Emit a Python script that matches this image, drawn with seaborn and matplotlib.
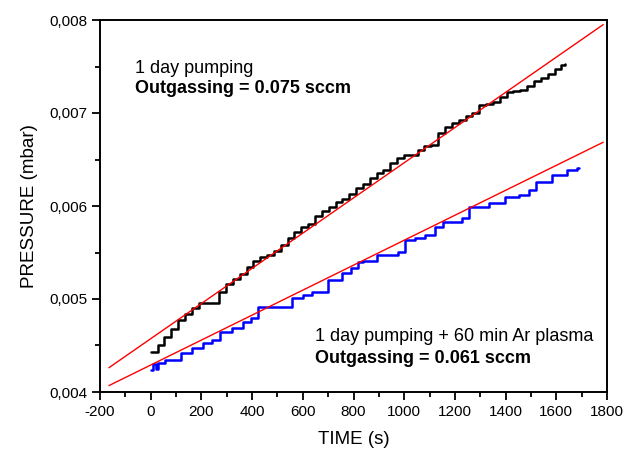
import matplotlib
matplotlib.use("Agg")
import matplotlib.pyplot as plt
import seaborn as sns
import numpy as np
import pandas as pd
from matplotlib.ticker import MultipleLocator, FuncFormatter

# ---- data (time in s, pressure in mbar) ----
black_t = [0, 27, 54, 81, 108, 135, 162, 189, 216, 243, 270, 297, 324, 351, 378,
           405, 432, 459, 486, 513, 540, 567, 594, 621, 648, 675, 702, 729, 756,
           783, 810, 837, 864, 891, 918, 945, 972, 999, 1026, 1053, 1080, 1107,
           1134, 1161, 1188, 1215, 1242, 1269, 1296, 1323, 1350, 1377, 1404,
           1431, 1458, 1485, 1512, 1539, 1566, 1593, 1620, 1635]
black_p = [4.433, 4.51, 4.595, 4.68, 4.774, 4.84, 4.90, 4.954, 4.954, 4.96, 5.08,
           5.16, 5.21, 5.27, 5.34, 5.41, 5.45, 5.473, 5.52, 5.58, 5.66, 5.72,
           5.77, 5.81, 5.89, 5.95, 5.99, 6.04, 6.08, 6.13, 6.19, 6.24, 6.30,
           6.35, 6.39, 6.46, 6.52, 6.548, 6.548, 6.60, 6.64, 6.656, 6.79, 6.853,
           6.89, 6.93, 6.97, 6.996, 7.086, 7.10, 7.122, 7.17, 7.229, 7.24, 7.247,
           7.29, 7.34, 7.38, 7.42, 7.47, 7.52, 7.53]
black_p = [v * 1e-3 for v in black_p]

blue_t = [0, 10, 20, 29, 55, 121, 161, 207, 240, 273, 319, 365, 395, 424, 556,
          600, 635, 701, 754, 790, 819, 839, 892, 977, 1004, 1043, 1083, 1122,
          1155, 1228, 1254, 1334, 1399, 1452, 1491, 1518, 1584, 1643, 1682, 1690]
blue_p = [4.24, 4.30, 4.25, 4.308, 4.344, 4.416, 4.47, 4.523, 4.559, 4.648,
          4.685, 4.756, 4.80, 4.917, 5.007, 5.04, 5.078, 5.204, 5.276, 5.33,
          5.401, 5.408, 5.473, 5.509, 5.634, 5.652, 5.688, 5.778, 5.831, 5.867,
          5.993, 6.028, 6.10, 6.118, 6.172, 6.261, 6.333, 6.387, 6.412, 6.412]
blue_p = [v * 1e-3 for v in blue_p]

# linear fits: P = intercept + slope * t
fit_slope = [1.892e-6, 1.342e-6]
fit_intercept = [4.573e-3, 4.290e-3]
fit_t_range = [-165, 1785]

xticks = [-200, 0, 200, 400, 600, 800, 1000, 1200, 1400, 1600, 1800]
yticks = [0.004, 0.005, 0.006, 0.007, 0.008]

sns.set_style("ticks")
plt.rcParams["font.family"] = ["Liberation Sans", "DejaVu Sans"]
plt.rcParams["text.color"] = "black"
plt.rcParams["axes.labelcolor"] = "black"
plt.rcParams["xtick.color"] = "black"
plt.rcParams["ytick.color"] = "black"

fig = plt.figure(figsize=(6.24, 4.5), dpi=100)
ax = fig.add_axes([100 / 624, 1 - 392 / 450, (607 - 100) / 624, (392 - 20) / 450])

df_b = pd.DataFrame({"t": black_t, "p": black_p})
df_u = pd.DataFrame({"t": blue_t, "p": blue_p})
sns.lineplot(data=df_b, x="t", y="p", ax=ax, color="black", lw=1.8,
             drawstyle="steps-post", sort=False, estimator=None)
sns.lineplot(data=df_u, x="t", y="p", ax=ax, color="#0000ff", lw=1.8,
             drawstyle="steps-post", sort=False, estimator=None)

tf = np.array(fit_t_range, dtype=float)
for s, b in zip(fit_slope, fit_intercept):
    sns.lineplot(x=tf, y=b + s * tf, ax=ax, color="red", lw=1.0)

ax.set_xlim(-200, 1800)
ax.set_ylim(0.004, 0.008)
ax.set_xticks(xticks)
ax.set_yticks(yticks)
ax.xaxis.set_minor_locator(MultipleLocator(100))
ax.yaxis.set_minor_locator(MultipleLocator(0.0005))
ax.yaxis.set_major_formatter(FuncFormatter(lambda v, p: f"{v:.3f}".replace(".", ",")))
ax.xaxis.set_major_formatter(FuncFormatter(lambda v, p: f"{v:.0f}"))
ax.tick_params(which="major", direction="out", length=6, width=1.3, labelsize=11,
               colors="black", labelcolor="black", pad=3)
ax.tick_params(which="minor", direction="out", length=3.5, width=1.3, colors="black")
for sp in ax.spines.values():
    sp.set_visible(True)
    sp.set_linewidth(1.4)
    sp.set_color("black")

ax.set_xlabel("TIME (s)", fontsize=13.5, labelpad=9, color="black")
ax.set_ylabel("PRESSURE (mbar)", fontsize=13.5, labelpad=8, color="black")

ax.text(0.070, 0.870, "1 day pumping", transform=ax.transAxes, fontsize=13,
        ha="left", va="center", color="black")
ax.text(0.070, 0.815, "Outgassing = 0.075 sccm", transform=ax.transAxes,
        fontsize=13, fontweight="bold", ha="left", va="center", color="black")
ax.text(0.425, 0.150, "1 day pumping + 60 min Ar plasma", transform=ax.transAxes,
        fontsize=13, ha="left", va="center", color="black")
ax.text(0.425, 0.090, "Outgassing = 0.061 sccm", transform=ax.transAxes,
        fontsize=13, fontweight="bold", ha="left", va="center", color="black")

fig.savefig("out.png", dpi=100)
